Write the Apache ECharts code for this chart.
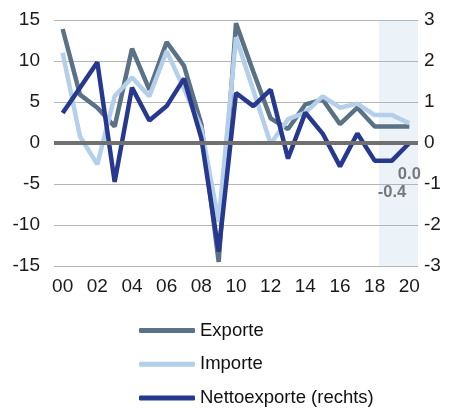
<!DOCTYPE html>
<html><head><meta charset="utf-8">
<script src="https://cdn.jsdelivr.net/npm/echarts@6/dist/echarts.min.js"></script>
<style>html,body{margin:0;padding:0;background:#fff}#c{width:451px;height:408px}</style>
</head><body><div id="c"></div>
<script>
const years = [2000,2001,2002,2003,2004,2005,2006,2007,2008,2009,2010,2011,2012,2013,2014,2015,2016,2017,2018,2019,2020];
const yearTicks = [2000,2002,2004,2006,2008,2010,2012,2014,2016,2018,2020];
const exporte = [13.9,5.9,4.3,2.0,11.5,6.5,12.3,9.4,2.3,-14.5,14.6,8.7,3.0,1.7,4.7,5.3,2.3,4.3,2.0,2.0,2.0];
const importe = [11.0,0.8,-2.6,5.7,8.0,5.7,11.2,6.6,1.8,-9.6,12.9,6.4,-0.1,2.9,3.7,5.7,4.3,4.8,3.4,3.4,2.4];
const netto = [0.73,1.35,1.97,-0.95,1.35,0.55,0.9,1.57,0.12,-2.65,1.22,0.9,1.3,-0.38,0.74,0.23,-0.57,0.23,-0.43,-0.43,0.0];
const labelledYears = [2019,2020];
const forecastStart = 2018.25;
const leftTicks = [-15,15,5];
const rightTicks = [-3,3,1];

const pairs = arr => years.map((y,i)=>[y,arr[i]]);
const FONT = 'Liberation Sans, Arial, sans-serif';
const chart = echarts.init(document.getElementById('c'), null, {renderer:'canvas'});
chart.setOption({
  animation:false,
  grid:{left:54,right:33,top:20,bottom:142},
  xAxis:{type:'value',min:1999.5,max:2020.5,
    axisLine:{show:false},axisTick:{show:false},splitLine:{show:false},
    axisLabel:{customValues:yearTicks,margin:11,fontSize:19,color:'#1a1a1a',fontFamily:FONT,
      formatter:v=>String(v%100).padStart(2,'0')}},
  yAxis:[
    {type:'value',min:leftTicks[0],max:leftTicks[1],interval:leftTicks[2],
      axisLine:{show:false},axisTick:{show:false},
      axisLabel:{margin:14,fontSize:19,color:'#1a1a1a',fontFamily:FONT},
      splitLine:{lineStyle:{color:'#b5b5b5',width:1}}},
    {type:'value',min:rightTicks[0],max:rightTicks[1],interval:rightTicks[2],position:'right',
      axisLine:{show:false},axisTick:{show:false},splitLine:{show:false},
      axisLabel:{margin:6,fontSize:19,color:'#1a1a1a',fontFamily:FONT}}
  ],
  legend:{orient:'vertical',left:139,top:321,height:100,itemWidth:56,itemHeight:5,itemGap:14.75,padding:0,
    icon:'roundRect',data:['Exporte','Importe','Nettoexporte (rechts)'],
    textStyle:{fontSize:18.5,color:'#111',fontFamily:FONT}},
  series:[
    {type:'line',name:'zero',data:[],z:1,silent:true,
      markLine:{silent:true,symbol:'none',label:{show:false},
        lineStyle:{color:'#707070',width:4,type:'solid'},data:[{yAxis:0}]}},
    {type:'line',name:'Exporte',data:pairs(exporte),z:2,showSymbol:false,symbol:'none',
      lineStyle:{color:'#5b7185',width:4.5},itemStyle:{color:'#5b7185'}},
    {type:'line',name:'Importe',data:pairs(importe),z:2,showSymbol:false,symbol:'none',
      lineStyle:{color:'#b3cfe9',width:4.5},itemStyle:{color:'#b3cfe9'}},
    {type:'line',name:'Nettoexporte (rechts)',yAxisIndex:1,data:pairs(netto),z:2,showSymbol:false,symbol:'none',
      lineStyle:{color:'#27398f',width:4.5},itemStyle:{color:'#27398f'}},
    {type:'line',name:'shade',data:[],z:3,silent:true,
      markArea:{silent:true,itemStyle:{color:'rgba(155,195,220,0.2)'},
        data:[[{xAxis:forecastStart},{xAxis:2020.5}]]}},
    {type:'scatter',name:'labels',yAxisIndex:1,z:4,symbolSize:0,silent:true,
      data:years.map((y,i)=>[y,netto[i]]).filter(p=>labelledYears.includes(p[0])),
      label:{show:true,position:'bottom',distance:23,fontSize:16.5,fontWeight:'bold',color:'#595959',fontFamily:FONT,
        formatter:p=>p.value[1].toFixed(1)}}
  ]
});
</script></body></html>
